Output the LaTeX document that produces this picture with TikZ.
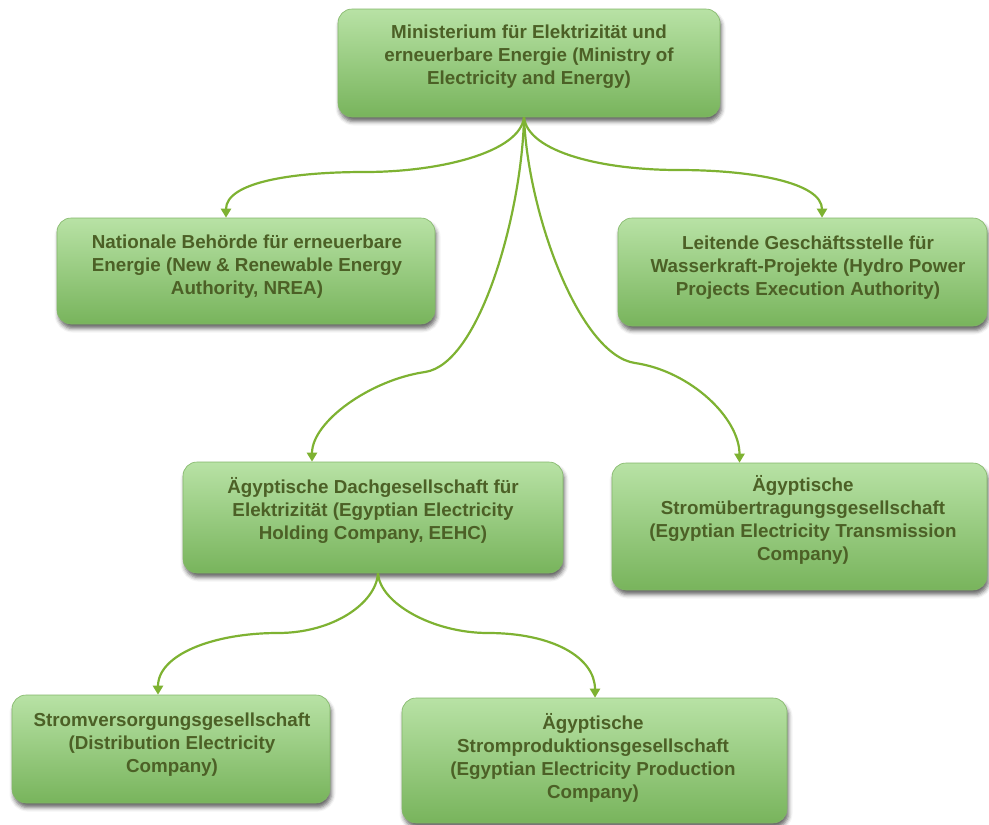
\documentclass[tikz,border=0pt]{standalone}
\usepackage{fontspec}
\setmainfont{Liberation Sans}
\usetikzlibrary{arrows.meta,shadows.blur}
\definecolor{boxtop}{RGB}{184,226,165}
\definecolor{boxbot}{RGB}{120,180,92}
\definecolor{boxedge}{RGB}{130,182,104}
\definecolor{txtcol}{RGB}{76,96,38}
\definecolor{conncol}{RGB}{126,178,50}
\tikzset{
  box/.style={rectangle, rounded corners=14pt, shading=axis, top color=boxtop,
    bottom color=boxbot, draw=boxedge, line width=0.6pt, inner sep=0pt,
    blur shadow={shadow xshift=1.5pt, shadow yshift=-4.5pt, shadow blur radius=4pt, shadow opacity=60}},
  txt/.style={align=center, inner sep=0pt, text=txtcol,
    font=\fontsize{18.8}{23}\selectfont\bfseries},
  conn/.style={draw=conncol, line width=2.2pt, -{Triangle[length=9pt,width=10pt]}}
}
\begin{document}
\begin{tikzpicture}[x=1pt,y=-1pt]
\useasboundingbox (0,0) rectangle (989,825);

% boxes
\node[box, minimum width=382pt, minimum height=108pt] (min)   at (529,63)    {};
\node[box, minimum width=378pt, minimum height=106pt] (nrea)  at (246,271)   {};
\node[box, minimum width=369pt, minimum height=108pt] (hydro) at (802.5,272) {};
\node[box, minimum width=380pt, minimum height=111pt] (eehc)  at (373,517.5) {};
\node[box, minimum width=375pt, minimum height=127pt] (trans) at (799.5,526.5){};
\node[box, minimum width=318pt, minimum height=108pt] (dist)  at (171,749)   {};
\node[box, minimum width=385pt, minimum height=125pt] (prod)  at (594.5,760.5){};

% texts
\node[txt] (min-t)   at (529,57)    {Ministerium für Elektrizität und\\erneuerbare Energie (Ministry of\\Electricity and Energy)};
\node[txt] (nrea-t)  at (247,267)   {Nationale Behörde für erneuerbare\\Energie (New \& Renewable Energy\\Authority, NREA)};
\node[txt] (hydro-t) at (808,268)   {Leitende Geschäftsstelle für\\Wasserkraft-Projekte (Hydro Power\\Projects Execution Authority)};
\node[txt] (eehc-t)  at (373,510)   {Ägyptische Dachgesellschaft für\\Elektrizität (Egyptian Electricity\\Holding Company, EEHC)};
\node[txt] (trans-t) at (803,519.5) {Ägyptische\\Stromübertragungsgesellschaft\\(Egyptian Electricity Transmission\\Company)};
\node[txt] (dist-t)  at (172,745)   {Stromversorgungsgesellschaft\\(Distribution Electricity\\Company)};
\node[txt] (prod-t)  at (593,758)   {Ägyptische\\Stromproduktionsgesellschaft\\(Egyptian Electricity Production\\Company)};

% connectors
\draw[conn] ([xshift=-5pt]min.south) .. controls +(-4,35) and +(75,0) .. (365,172)
  .. controls +(-75,0) and +(0,-35) .. ([xshift=-20pt]nrea.north);
\draw[conn] ([xshift=-5pt]min.south) .. controls +(4,35) and +(-75,0) .. (678,170)
  .. controls +(75,0) and +(0,-35) .. ([xshift=19.5pt]hydro.north);
\draw[conn] ([xshift=-5pt]min.south) .. controls +(-2,95) and +(55,-8) .. (425,372)
  .. controls +(-55,8) and +(0,-40) .. ([xshift=-61pt]eehc.north);
\draw[conn] ([xshift=-5pt]min.south) .. controls +(4,98) and +(-55,-8) .. (635,363)
  .. controls +(55,8) and +(0,-45) .. ([xshift=-60pt]trans.north);
\draw[conn] ([xshift=5pt]eehc.south) .. controls +(-2,30) and +(55,0) .. (278,633)
  .. controls +(-65,0) and +(0,-40) .. ([xshift=-13pt]dist.north);
\draw[conn] ([xshift=5pt]eehc.south) .. controls +(2,30) and +(-55,0) .. (488,633)
  .. controls +(65,0) and +(0,-40) .. ([xshift=0.5pt]prod.north);
\end{tikzpicture}
\end{document}
